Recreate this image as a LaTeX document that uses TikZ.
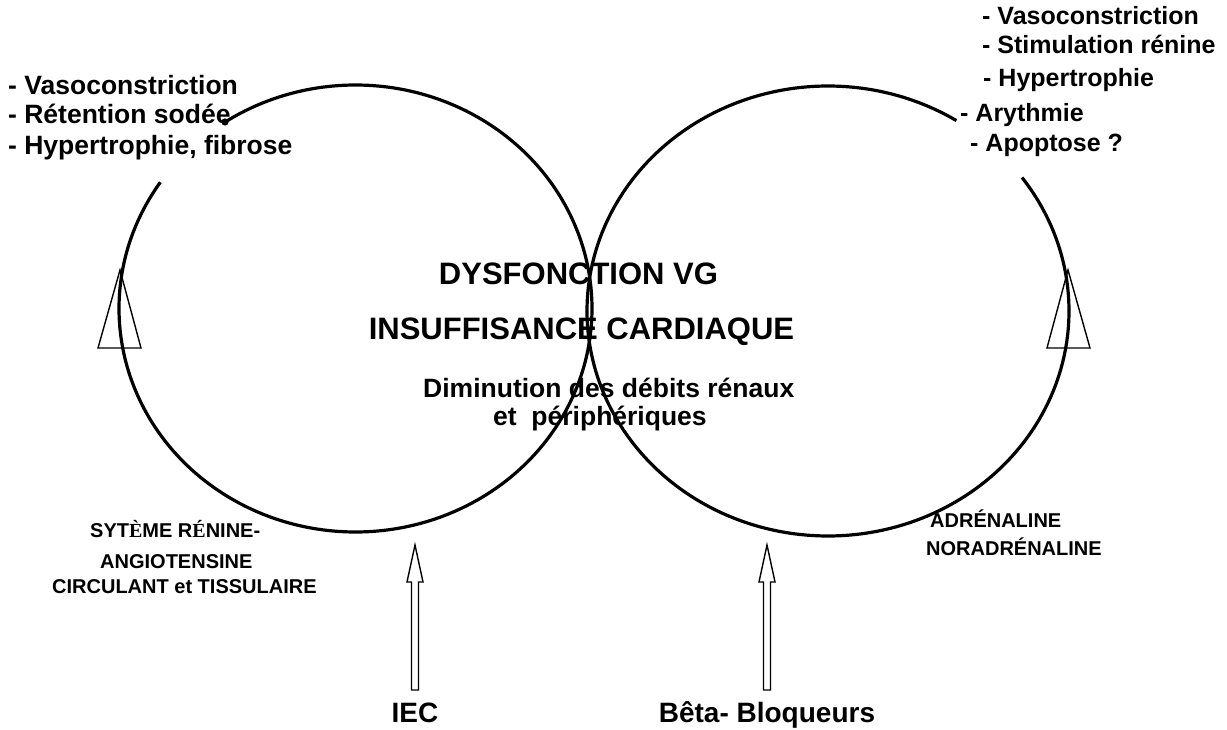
\documentclass[tikz,border=0pt]{standalone}
\usepackage{fontspec}
\setmainfont{Liberation Sans}
\newfontfamily\serifacc{Liberation Serif}
\begin{document}
\begin{tikzpicture}[x=1pt,y=-1pt,
  ring/.style={line width=3.2pt},
  hollow/.style={line width=1.4pt, line join=miter},
  lbl/.style={inner sep=0pt, font=\bfseries},
  big/.style={lbl, font=\fontsize{31}{36}\selectfont\bfseries},
  mid/.style={lbl, font=\fontsize{26.5}{30}\selectfont\bfseries},
  rt/.style={lbl, font=\fontsize{25}{30}\selectfont\bfseries},
  sm/.style={lbl, font=\fontsize{20}{24}\selectfont\bfseries},
  drug/.style={lbl, font=\fontsize{28}{32}\selectfont\bfseries}]
\useasboundingbox (0,0) rectangle (1227,730);

% circles (with gaps where text interrupts them)
\draw[ring] plot[domain=145.6:483.5, samples=240, smooth] ({355.5+236.5*cos(\x)}, {308.5-223.5*sin(\x)});
\fill (225,122) circle (3.6);
\draw[ring] plot[domain=57.8:396.4, samples=240, smooth] ({828+241*cos(\x)}, {311-225*sin(\x)});

% hollow triangles on the circles
\draw[hollow] (120,270) -- (141,348) -- (98,348) -- cycle;
\draw[hollow] (1068,270) -- (1090,348) -- (1047,348) -- cycle;

% texts
\node[mid, anchor=base west] (l1) at (8,95) {- Vasoconstriction};
\node[mid, anchor=base west] (l2) at (8,124) {- Rétention sodée};
\node[mid, anchor=base west] (l3) at (8,155) {- Hypertrophie, fibrose};

\node[rt, anchor=base west] (r1) at (982,25) {- Vasoconstriction};
\node[rt, anchor=base west] (r2) at (982,54) {- Stimulation rénine};
\node[rt, anchor=base west] (r3) at (983,87) {- Hypertrophie};
\node[rt, anchor=base west] (r4) at (960,122) {- Arythmie};
\node[rt, anchor=base west] (r5) at (970,152) {- Apoptose ?};

\node[big, anchor=base] (c1) at (578.5,284) {DYSFONCTION VG};
\node[big, anchor=base] (c2) at (581.5,339) {INSUFFISANCE CARDIAQUE};
\node[mid, anchor=base west] (c3) at (423,397) {Diminution des débits rénaux};
\node[mid, anchor=base west] (c4) at (493,425) {et\ \ périphériques};

\node[sm, anchor=base west] (s1) at (90,537) {SYT{\serifacc È}ME R{\serifacc É}NINE-};
\node[sm, anchor=base west] (s2) at (100,568) {ANGIOTENSINE};
\node[sm, anchor=base west] (s3) at (52,593) {CIRCULANT et TISSULAIRE};

\node[sm, anchor=base west] (a1) at (930,527) {ADRÉNALINE};
\node[sm, anchor=base west] (a2) at (926,555) {NORADRÉNALINE};

\node[drug, anchor=base] (iec) at (415,722) {IEC};
\node[drug, anchor=base] (bb) at (767,722) {Bêta- Bloqueurs};

% hollow block arrows
\draw[hollow] (415,545) -- (423,582) -- (418.5,582) -- (418.5,690) -- (411.5,690) -- (411.5,582) -- (407,582) -- cycle;
\draw[hollow] (767,545) -- (775,582) -- (770.5,582) -- (770.5,690) -- (763.5,690) -- (763.5,582) -- (759,582) -- cycle;
\end{tikzpicture}
\end{document}
